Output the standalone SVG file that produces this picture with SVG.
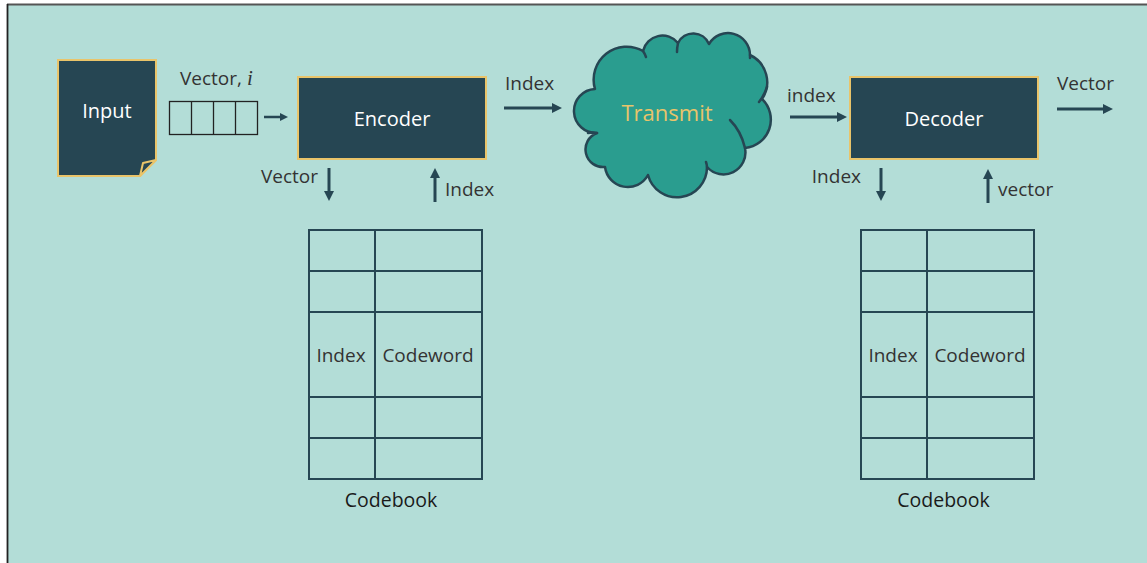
<svg xmlns="http://www.w3.org/2000/svg" width="1147" height="563" viewBox="0 0 1147 563">
  <style>
    .lbl { font-family: "Open Sans", "Noto Sans", sans-serif; font-size: 19px; fill: #333333; }
    .node-text { font-family: "Open Sans", "Noto Sans", sans-serif; font-size: 20px; fill: #ffffff; text-anchor: middle; }
    .box { fill: #264653; stroke: #e9c46a; stroke-width: 2; }
    .arrow { stroke: #264653; stroke-width: 3; fill: none; marker-end: url(#head); }
    .arrow-sm { stroke: #264653; stroke-width: 2.5; fill: none; marker-end: url(#headSm); }
    .grid { stroke: #264653; stroke-width: 2; fill: none; }
    .cell { font-family: "Open Sans", "Noto Sans", sans-serif; font-size: 19px; fill: #333333; text-anchor: middle; }
    .title { font-family: "Open Sans", "Noto Sans", sans-serif; font-size: 19.5px; fill: #1a1a1a; text-anchor: middle; }
  </style>
  <defs>
    <marker id="head" markerUnits="userSpaceOnUse" markerWidth="10" markerHeight="10" refX="2" refY="5" orient="auto">
      <path d="M0,0 L10,5 L0,10 Z" fill="#264653"/>
    </marker>
    <marker id="headSm" markerUnits="userSpaceOnUse" markerWidth="8" markerHeight="8" refX="2" refY="4" orient="auto">
      <path d="M0,0 L8,4 L0,8 Z" fill="#264653"/>
    </marker>
  </defs>

  <!-- page -->
  <rect x="0" y="0" width="1147" height="563" fill="#ffffff"/>
  <rect x="8" y="5" width="1139" height="558" fill="#b3ddd7"/>
  <line x1="7" y1="4.5" x2="1147" y2="4.5" stroke="#555555" stroke-width="1.8"/>
  <line x1="7.5" y1="4" x2="7.5" y2="563" stroke="#222222" stroke-width="1.8"/>

  <!-- input document -->
  <g id="input">
    <path class="box" stroke-width="2.5" d="M58,60 H156 V160 L140,176 H58 Z"/>
    <path d="M140,176 L143,163 L156,160 Z" fill="#264653" stroke="#e9c46a" stroke-width="2" stroke-linejoin="round"/>
    <text class="node-text" x="107" y="118">Input</text>
  </g>

  <!-- input vector -->
  <g id="vector">
    <text class="lbl" x="180" y="85">Vector, <tspan font-family="Liberation Serif, serif" font-style="italic" font-size="21">i</tspan></text>
    <rect x="169.5" y="101.5" width="88" height="33" fill="none" stroke="#222222" stroke-width="1.3"/>
    <line x1="191.5" y1="101.5" x2="191.5" y2="134.5" stroke="#222222" stroke-width="1.3"/>
    <line x1="213.5" y1="101.5" x2="213.5" y2="134.5" stroke="#222222" stroke-width="1.3"/>
    <line x1="235.5" y1="101.5" x2="235.5" y2="134.5" stroke="#222222" stroke-width="1.3"/>
  </g>

  <!-- encoder -->
  <g id="encoder">
    <rect class="box" x="298" y="77" width="188" height="82"/>
    <text class="node-text" x="392" y="126">Encoder</text>
  </g>

  <!-- channel -->
  <g id="transmit">
    <path fill="#2a9d8f" stroke="#264653" stroke-width="2.5" stroke-linejoin="round"
      d="M595,89 A33,33 0 0 1 643,51 A20,20 0 0 1 678,43 A17,17 0 0 1 709,44 A22,22 0 0 1 750,55 A30,30 0 0 1 762,99 A28.5,28.5 0 0 1 745,148 A22,22 0 0 1 707,167 A30,30 0 0 1 648,175 A23,23 0 0 1 605,167 A17.6,17.6 0 0 1 597,133 A22,22 0 0 1 595,89 Z"/>
    <g fill="none" stroke="#264653" stroke-width="2.5" stroke-linecap="round">
      <path d="M643,51 Q645,54 646,57"/>
      <path d="M678,43 Q677,48 677,52"/>
      <path d="M750,55 Q750,57 750,58"/>
      <path d="M767,87 Q764,96 759,102"/>
      <path d="M730,120 Q741,131 745,148"/>
      <path d="M707,167 Q707,165 706,162"/>
      <path d="M597,133 Q592,132 588,133"/>
    </g>
    <text x="667" y="121" text-anchor="middle" font-family="Open Sans, Noto Sans, sans-serif" font-size="22" fill="#e9c46a">Transmit</text>
  </g>

  <!-- decoder -->
  <g id="decoder">
    <rect class="box" x="850" y="77" width="188" height="82"/>
    <text class="node-text" x="944" y="126">Decoder</text>
  </g>

  <!-- encoder codebook -->
  <g id="codebook-enc">
    <rect class="grid" x="309" y="230" width="173" height="249"/>
    <line class="grid" x1="375" y1="230" x2="375" y2="479"/>
    <line class="grid" x1="309" y1="271" x2="482" y2="271"/>
    <line class="grid" x1="309" y1="312" x2="482" y2="312"/>
    <line class="grid" x1="309" y1="397" x2="482" y2="397"/>
    <line class="grid" x1="309" y1="438" x2="482" y2="438"/>
    <text class="cell" x="341" y="362">Index</text>
    <text class="cell" x="428" y="362">Codeword</text>
    <text class="title" x="391" y="507">Codebook</text>
  </g>

  <!-- decoder codebook -->
  <g id="codebook-dec">
    <rect class="grid" x="861" y="230" width="173" height="249"/>
    <line class="grid" x1="927" y1="230" x2="927" y2="479"/>
    <line class="grid" x1="861" y1="271" x2="1034" y2="271"/>
    <line class="grid" x1="861" y1="312" x2="1034" y2="312"/>
    <line class="grid" x1="861" y1="397" x2="1034" y2="397"/>
    <line class="grid" x1="861" y1="438" x2="1034" y2="438"/>
    <text class="cell" x="893" y="362">Index</text>
    <text class="cell" x="980" y="362">Codeword</text>
    <text class="title" x="943.5" y="507">Codebook</text>
  </g>

  <!-- connectors -->
  <g id="connectors">
    <line class="arrow-sm" x1="264" y1="117" x2="282" y2="117"/>
    <line class="arrow" x1="504" y1="108" x2="554" y2="108"/>
    <line class="arrow" x1="329" y1="168" x2="329" y2="193"/>
    <line class="arrow" x1="435" y1="202" x2="435" y2="176"/>
    <line class="arrow" x1="790" y1="117" x2="839" y2="117"/>
    <line class="arrow" x1="1057" y1="109" x2="1105" y2="109"/>
    <line class="arrow" x1="881" y1="168" x2="881" y2="193"/>
    <line class="arrow" x1="988" y1="203" x2="988" y2="177"/>
    <text class="lbl" x="505" y="90">Index</text>
    <text class="lbl" x="318" y="183" text-anchor="end">Vector</text>
    <text class="lbl" x="445" y="196">Index</text>
    <text class="lbl" x="787" y="102">index</text>
    <text class="lbl" x="1057" y="90">Vector</text>
    <text class="lbl" x="861" y="183" text-anchor="end">Index</text>
    <text class="lbl" x="998" y="196">vector</text>
  </g>
</svg>
